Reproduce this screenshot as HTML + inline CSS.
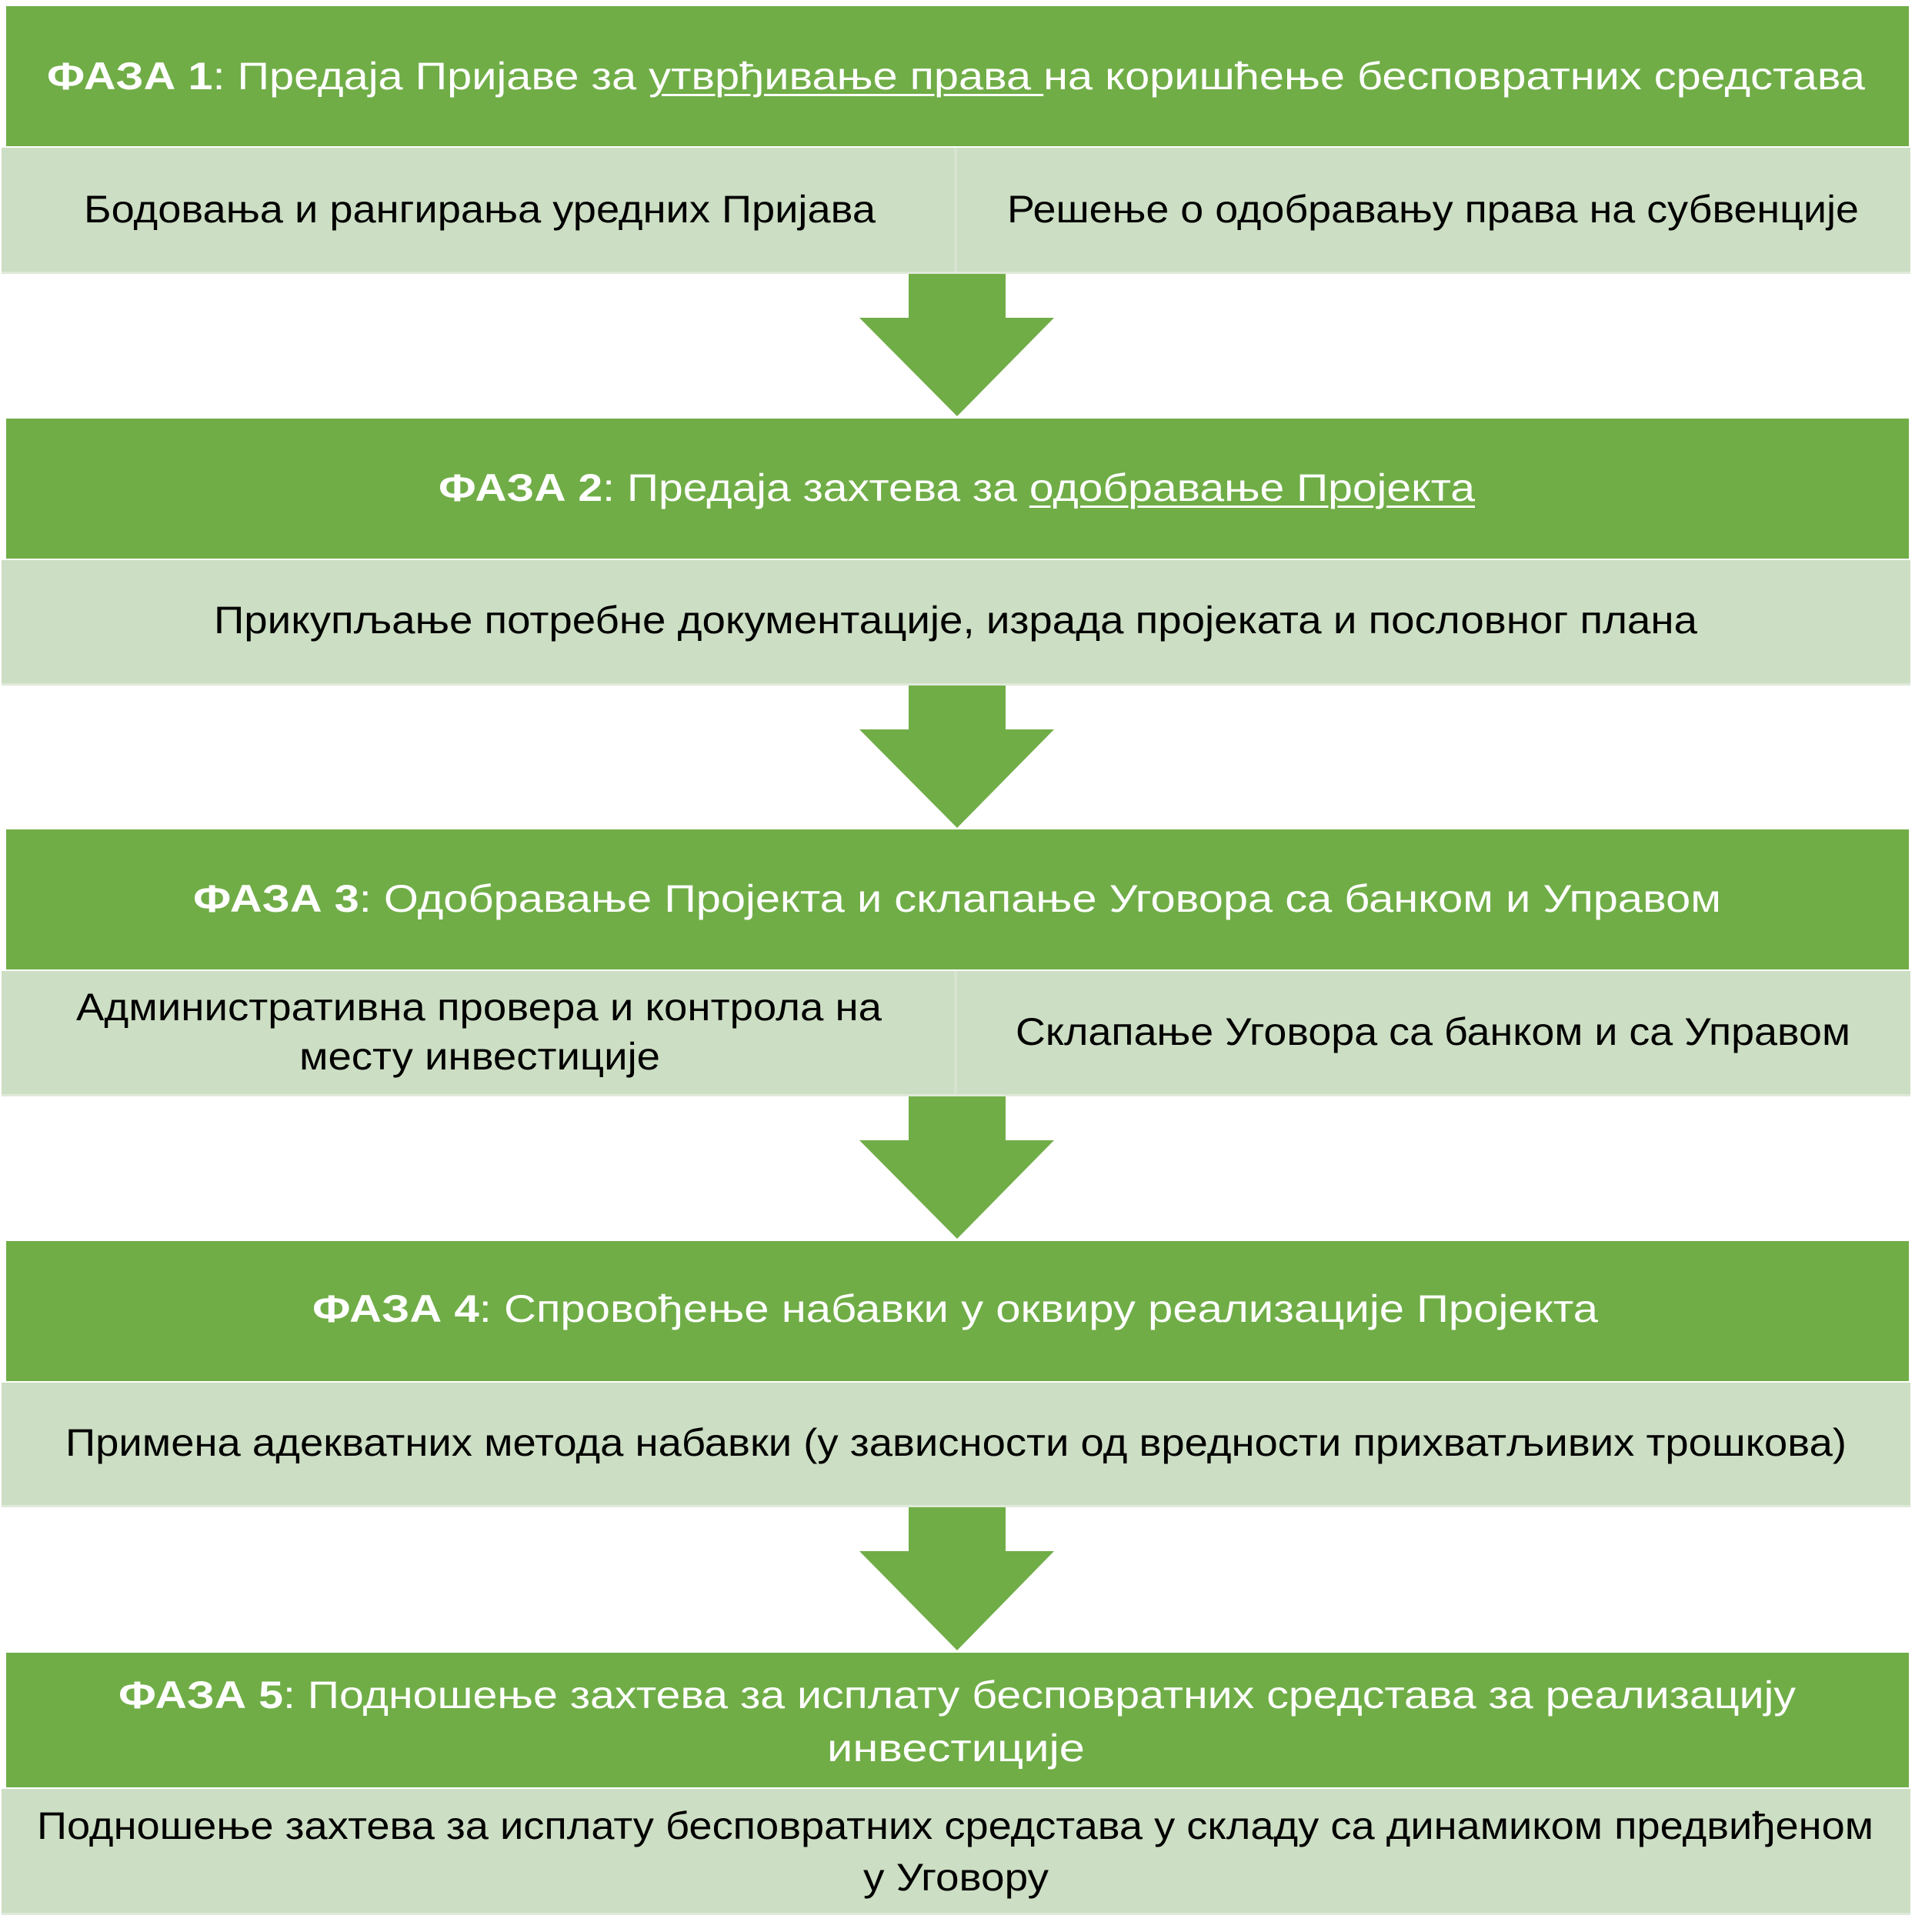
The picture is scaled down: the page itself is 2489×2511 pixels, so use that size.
<!DOCTYPE html>
<html><head><meta charset="utf-8"><style>
html,body{margin:0;padding:0;background:#fff;}
body{width:2489px;height:2511px;position:relative;overflow:hidden;font-family:"Liberation Sans",sans-serif;}
.g{position:absolute;left:8px;width:2473px;background:#70AD47;}
.l{position:absolute;left:2px;width:2481px;background:#CCDEC3;border-bottom:3px solid #dfe9d9;}
.dv{position:absolute;width:4px;background:#d6e4cf;}
.t{position:absolute;height:60px;line-height:60px;font-size:50px;white-space:nowrap;}
.t span{display:inline-block;transform-origin:0 50%;}
.w{color:#fff;}
.k{color:#000;}
u{text-decoration-thickness:3px;text-underline-offset:6px;}
</style></head><body>
<div class="g" style="top:8px;height:182px"></div>
<div class="l" style="top:192px;height:161px"></div>
<div class="dv" style="left:1240px;top:192px;height:161px"></div>
<div class="g" style="top:544px;height:182px"></div>
<div class="l" style="top:728px;height:160px"></div>
<div class="g" style="top:1078px;height:182px"></div>
<div class="l" style="top:1262px;height:160px"></div>
<div class="dv" style="left:1240px;top:1262px;height:160px"></div>
<div class="g" style="top:1613px;height:182px"></div>
<div class="l" style="top:1797px;height:159px"></div>
<div class="g" style="top:2148px;height:175px"></div>
<div class="l" style="top:2325px;height:161px"></div>

<svg style="position:absolute;left:0;top:0" width="2489" height="2511">
<g fill="#70AD47">
<polygon points="1181,356 1307,356 1307,413 1370,413 1244,541 1117,413 1181,413"/>
<polygon points="1181,891 1307,891 1307,948 1370,948 1244,1076 1117,948 1181,948"/>
<polygon points="1181,1425 1307,1425 1307,1482 1370,1482 1244,1610 1117,1482 1181,1482"/>
<polygon points="1181,1959 1307,1959 1307,2016 1370,2016 1244,2145 1117,2016 1181,2016"/>
</g></svg>

<div class="t w" style="left:61px;width:2363px;top:69px"><span><b>ФАЗА 1</b>: Предаја Пријаве за <u>утврђивање права </u>на коришћење бесповратних средстава</span></div>
<div class="t k" style="left:109px;width:1029px;top:242px"><span>Бодовања и рангирања уредних Пријава</span></div>
<div class="t k" style="left:1309px;width:1107px;top:242px"><span>Решење о одобравању права на субвенције</span></div>
<div class="t w" style="left:570px;width:1347px;top:604px"><span><b>ФАЗА 2</b>: Предаја захтева за <u>одобравање Пројекта</u></span></div>
<div class="t k" style="left:278px;width:1928px;top:776px"><span>Прикупљање потребне документације, израда пројеката и пословног плана</span></div>
<div class="t w" style="left:251px;width:1986px;top:1138px"><span><b>ФАЗА 3</b>: Одобравање Пројекта и склапање Уговора са банком и Управом</span></div>
<div class="t k" style="left:99px;width:1047px;top:1279px"><span>Административна провера и контрола на</span></div>
<div class="t k" style="left:389px;width:469px;top:1343px"><span>месту инвестиције</span></div>
<div class="t k" style="left:1320px;width:1085px;top:1311px"><span>Склапање Уговора са банком и са Управом</span></div>
<div class="t w" style="left:406px;width:1671px;top:1671px"><span><b>ФАЗА 4</b>: Спровођење набавки у оквиру реализације Пројекта</span></div>
<div class="t k" style="left:85px;width:2315px;top:1845px"><span>Примена адекватних метода набавки (у зависности од вредности прихватљивих трошкова)</span></div>
<div class="t w" style="left:154px;width:2180px;top:2173px"><span><b>ФАЗА 5</b>: Подношење захтева за исплату бесповратних средстава за реализацију</span></div>
<div class="t w" style="left:1075px;width:335px;top:2242px"><span>инвестиције</span></div>
<div class="t k" style="left:48px;width:2387px;top:2343px"><span>Подношење захтева за исплату бесповратних средстава у складу са динамиком предвиђеном</span></div>
<div class="t k" style="left:1122px;width:241px;top:2410px"><span>у Уговору</span></div>
<script>
document.querySelectorAll('.t').forEach(function(d){
  var s=d.firstElementChild;var w=s.getBoundingClientRect().width;var tw=d.clientWidth;
  if(w>0){s.style.transform='scaleX('+(tw/w)+')';}
});
</script>
</body></html>
